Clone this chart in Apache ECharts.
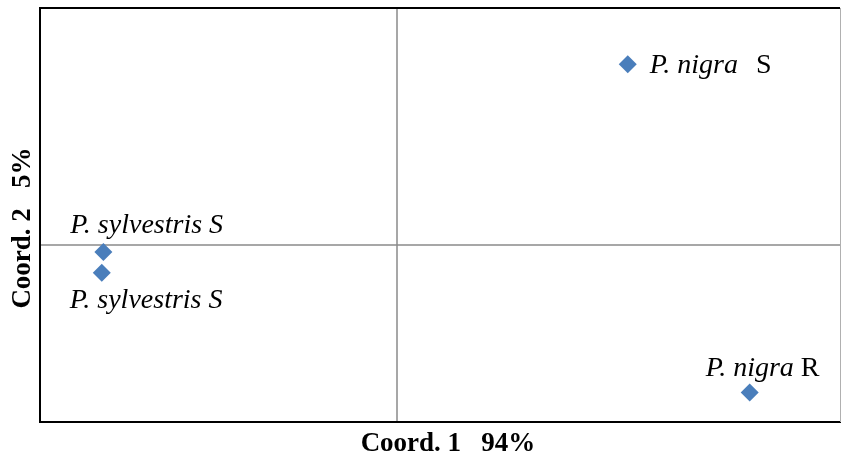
<!DOCTYPE html>
<html>
<head>
<meta charset="utf-8">
<script src="https://cdn.jsdelivr.net/npm/echarts@6/dist/echarts.min.js"></script>
<style>
  html, body { margin: 0; padding: 0; background: #fff; }
  #chart { width: 841px; height: 459px; }
</style>
</head>
<body>
<div id="chart"></div>
<script>
// PCoA sample scores
const sampleNames = ['P. nigra S', 'P. sylvestris S', 'P. sylvestris S', 'P. nigra R'];
const coord1 = [0.292, -0.370, -0.372, 0.446];
const coord2 = [0.122, -0.005, -0.019, -0.100];
const axisTitles = ['Coord. 1   94%', 'Coord. 2   5%'];

const serif = '"Liberation Serif", "Times New Roman", serif';
const GRID = { left: 40, top: 8, width: 800, height: 414 };

// label text: italic species name, upright tissue letter
function labelText(name) {
  const parts = name.split(' ');
  const tissue = parts.pop();
  const species = parts.join(' ');
  if (species.indexOf('sylvestris') >= 0) return '{i|' + species + ' ' + tissue + '}';
  if (tissue === 'S') return '{i|' + species + '}{rw|' + tissue + '}';
  return '{i|' + species + '}{r|' + tissue + '}';
}

// label placement relative to each symbol box
const labelOffsets = [[31, 10], [-24, -17], [-23, 37], [-35, -15]];

const points = coord1.map((x, i) => ({
  value: [x, coord2[i]],
  label: {
    show: true,
    formatter: labelText(sampleNames[i]),
    position: labelOffsets[i],
    align: 'left',
    verticalAlign: 'middle',
    color: '#000',
    textBorderWidth: 0,
    rich: {
      i: { fontFamily: serif, fontStyle: 'italic', fontSize: 28, color: '#000' },
      r: { fontFamily: serif, fontSize: 28, color: '#000', padding: [0, 0, 0, 7] },
      rw: { fontFamily: serif, fontSize: 28, color: '#000', padding: [0, 0, 0, 18] }
    }
  }
}));

const chart = echarts.init(document.getElementById('chart'));
chart.setOption({
  animation: false,
  grid: { left: GRID.left, top: GRID.top, width: GRID.width, height: GRID.height, containLabel: false },
  xAxis: {
    type: 'value', min: -0.45, max: 0.56,
    axisLine: { onZero: true, lineStyle: { color: '#8a8a8a', width: 1.5 } },
    axisTick: { show: false }, axisLabel: { show: false }, splitLine: { show: false }
  },
  yAxis: {
    type: 'value', min: -0.12, max: 0.16,
    axisLine: { onZero: true, lineStyle: { color: '#8a8a8a', width: 1.5 } },
    axisTick: { show: false }, axisLabel: { show: false }, splitLine: { show: false }
  },
  series: [{
    type: 'scatter',
    symbol: 'diamond',
    symbolSize: 18,
    itemStyle: { color: '#4A7EBB', opacity: 1 },
    data: points
  }],
  graphic: [
    // plot frame
    { type: 'polyline', silent: true, z: 10,
      shape: { points: [[GRID.left + GRID.width, GRID.top], [GRID.left, GRID.top], [GRID.left, GRID.top + GRID.height], [GRID.left + GRID.width + 1, GRID.top + GRID.height]] },
      style: { stroke: '#000', lineWidth: 2, fill: null } },
    { type: 'line', silent: true, z: 10,
      shape: { x1: GRID.left + GRID.width + 0.5, y1: GRID.top, x2: GRID.left + GRID.width + 0.5, y2: GRID.top + GRID.height },
      style: { stroke: '#b0b0b0', lineWidth: 1 } },
    // axis titles
    { type: 'text', silent: true, x: 448, y: 444,
      style: { text: axisTitles[0], font: 'bold 27px ' + serif, fill: '#000', align: 'center', verticalAlign: 'middle' } },
    { type: 'text', silent: true, x: 23, y: 228, rotation: Math.PI / 2,
      style: { text: axisTitles[1], font: 'bold 27px ' + serif, fill: '#000', align: 'center', verticalAlign: 'middle' } }
  ]
});
</script>
</body>
</html>
